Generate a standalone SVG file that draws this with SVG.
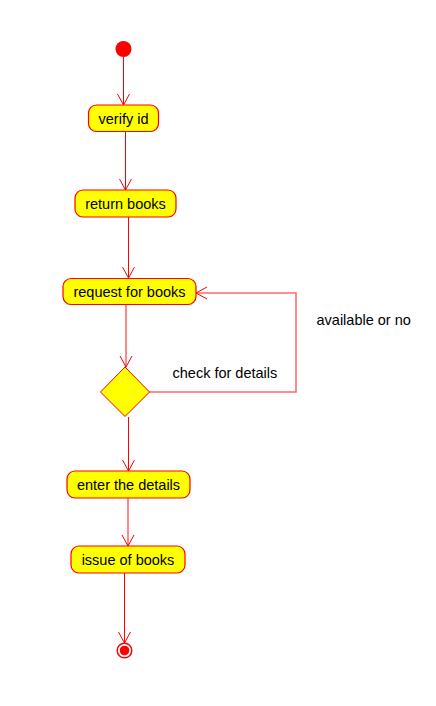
<svg xmlns="http://www.w3.org/2000/svg" width="436" height="706" viewBox="0 0 436 706">
<defs>
<style>
.node rect{fill:#ffff00;stroke:#ff0000;stroke-width:1.2}
.node polygon{fill:#ffff00;stroke:#ff0000;stroke-width:1}
text{font-family:"Liberation Sans",Arial,sans-serif;font-size:14.5px;fill:#000}
.node text{text-anchor:middle}
.edges path{fill:none;stroke:#ff0000;stroke-width:1}
.edges .soft{stroke:#ff6b6b;stroke-width:1.6}
</style>
<marker id="arr" markerWidth="14" markerHeight="14" refX="12" refY="6.5" orient="auto" markerUnits="userSpaceOnUse">
<path d="M1,0.5 L12,6.5 L1,12.5" fill="none" stroke="#ff0000" stroke-width="1"/>
</marker>
</defs>
<rect width="436" height="706" fill="#fff"/>
<g id="edges" class="edges">
<path d="M123.5,57 V105" marker-end="url(#arr)"/>
<path d="M125.5,132 V190" marker-end="url(#arr)"/>
<path d="M128.5,217 V278" marker-end="url(#arr)"/>
<path class="soft" d="M126,304 V367" marker-end="url(#arr)"/>
<path class="soft" d="M149,392 H296 V293 H196" marker-end="url(#arr)"/>
<path d="M128.5,417 V471" marker-end="url(#arr)"/>
<path class="soft" d="M128,498 V546" marker-end="url(#arr)"/>
<path d="M124.5,573 V643" marker-end="url(#arr)"/>
</g>
<g id="start"><circle cx="123.5" cy="49" r="8" fill="#ff0000"/></g>
<g id="verify" class="node"><rect x="88.5" y="105" width="70" height="26.5" rx="8"/><text x="123.5" y="123.5">verify id</text></g>
<g id="return" class="node"><rect x="75" y="190" width="101" height="27" rx="8"/><text x="125.5" y="209">return books</text></g>
<g id="request" class="node"><rect x="63" y="278.5" width="133" height="26" rx="8"/><text x="129.5" y="297">request for books</text></g>
<g id="decision" class="node"><polygon points="125,367 149.5,392 125,416.5 100.5,392"/></g>
<g id="enter" class="node"><rect x="67" y="471" width="123" height="27" rx="8"/><text x="128.5" y="490">enter the details</text></g>
<g id="issue" class="node"><rect x="71" y="546" width="114" height="27" rx="8"/><text x="128" y="565">issue of books</text></g>
<g id="end"><circle cx="124.5" cy="650.5" r="7.3" fill="#fff" stroke="#ff0000" stroke-width="1.5"/><circle cx="124.5" cy="650.5" r="4.8" fill="#ff0000"/></g>
<g id="labels">
<text x="172.5" y="377.5">check for details</text>
<text x="316.5" y="324.5">available or no</text>
</g>
</svg>
